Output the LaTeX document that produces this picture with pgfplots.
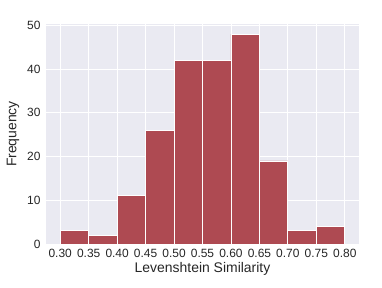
\documentclass[border=0pt]{standalone}
\usepackage{pgfplots}
\pgfplotsset{compat=1.18}
\usepackage{fontspec}
\setmainfont{Liberation Sans}
\definecolor{bg}{HTML}{EAEAF2}
\definecolor{barc}{RGB}{174,74,82}
\definecolor{txt}{HTML}{262626}
\begin{document}
\begin{tikzpicture}
\begin{axis}[
  scale only axis,
  width=313bp, height=220bp,
  xmin=0.275, xmax=0.825,
  ymin=0, ymax=50.3,
  axis background/.style={fill=bg},
  axis line style={draw=none},
  major tick length=0pt,
  xtick={0.30,0.35,...,0.81},
  ytick={0,10,20,30,40,50},
  grid=major,
  grid style={white, line width=0.9pt},
  xticklabel={\pgfmathprintnumber[fixed,fixed zerofill,precision=2,assume math mode=true]{\tick}},
  /pgf/number format/assume math mode=true,
  tick label style={font=\fontsize{12}{14}\selectfont, text=txt},
  label style={font=\fontsize{14}{16}\selectfont, text=txt},
  xlabel={Levenshtein Similarity},
  ylabel={Frequency},
  xticklabel style={yshift=-2bp},
  yticklabel style={xshift=-2bp},
  xlabel style={yshift=2bp},
  ylabel style={yshift=1bp},
]
\addplot[ybar interval, fill=barc, draw=white, line width=0.8pt] coordinates {
(0.30,3) (0.35,2) (0.40,11) (0.45,26) (0.50,42) (0.55,42) (0.60,48) (0.65,19) (0.70,3) (0.75,4) (0.80,4)
};
\end{axis}
\path[use as bounding box] ([shift={(-46bp,-43bp)}]current axis.south west) rectangle ([shift={(23bp,24bp)}]current axis.north east);
\end{tikzpicture}
\end{document}
